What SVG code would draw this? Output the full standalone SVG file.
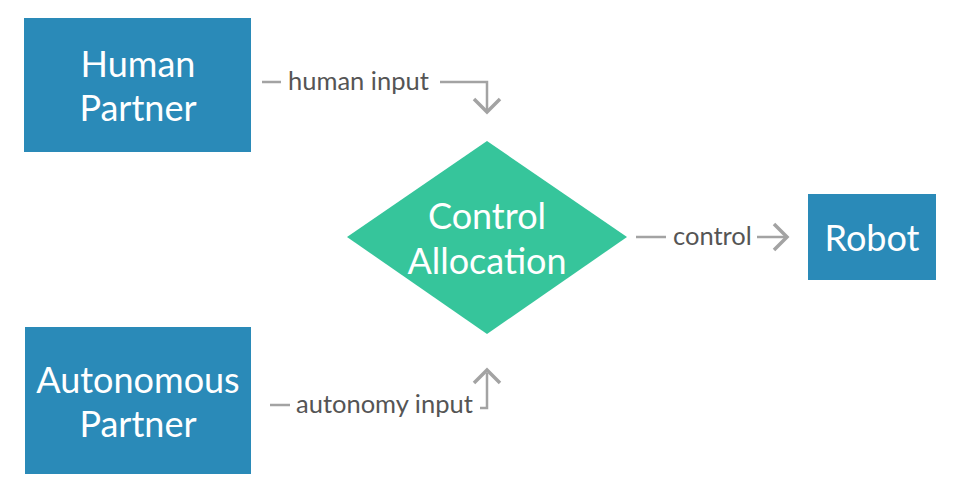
<svg xmlns="http://www.w3.org/2000/svg" width="961" height="499" viewBox="0 0 961 499">
<style>
.box{fill:#2a8ab8}
.dia{fill:#36c59b}
.nt{font-family:Lato,"Open Sans",sans-serif;font-size:36px;fill:#ffffff;text-anchor:middle}
.lb{font-family:Lato,"Open Sans",sans-serif;font-size:25.5px;fill:#555555}
.ln{fill:none;stroke:#a3a3a3;stroke-width:2.5}
.ah{fill:none;stroke:#a3a3a3;stroke-width:3.5;stroke-linejoin:miter}
</style>
<rect width="961" height="499" fill="#ffffff"/>
<g id="human-partner">
<rect class="box" x="24" y="18" width="227" height="134"/>
<text class="nt" x="138" y="77">Human</text>
<text class="nt" x="138" y="121">Partner</text>
</g>
<g id="autonomous-partner">
<rect class="box" x="25" y="327" width="226" height="147"/>
<text class="nt" x="138" y="393">Autonomous</text>
<text class="nt" x="138" y="437">Partner</text>
</g>
<g id="robot">
<rect class="box" x="808" y="194" width="128" height="86"/>
<text class="nt" x="872" y="251">Robot</text>
</g>
<g id="control-allocation">
<polygon class="dia" points="487,141 627,237 487,334 347,237"/>
<text class="nt" x="487" y="229">Control</text>
<text class="nt" x="487" y="274">Allocation</text>
</g>
<g id="connectors">
<line class="ln" x1="262" y1="82" x2="281" y2="82"/>
<text class="lb" x="288" y="90">human input</text>
<polyline class="ln" points="440,82 487,82 487,110"/>
<polyline class="ah" points="474,99 487,112 500,99"/>
<line class="ln" x1="270" y1="405" x2="290" y2="405"/>
<text class="lb" x="296" y="413">autonomy input</text>
<polyline class="ln" points="480,408 487,408 487,373"/>
<polyline class="ah" points="474,383 487,370 500,383"/>
<line class="ln" x1="636" y1="237" x2="666" y2="237"/>
<text class="lb" x="673" y="245">control</text>
<line class="ln" x1="757" y1="237" x2="785" y2="237"/>
<polyline class="ah" points="774,224 787,237 774,250"/>
</g>
</svg>
